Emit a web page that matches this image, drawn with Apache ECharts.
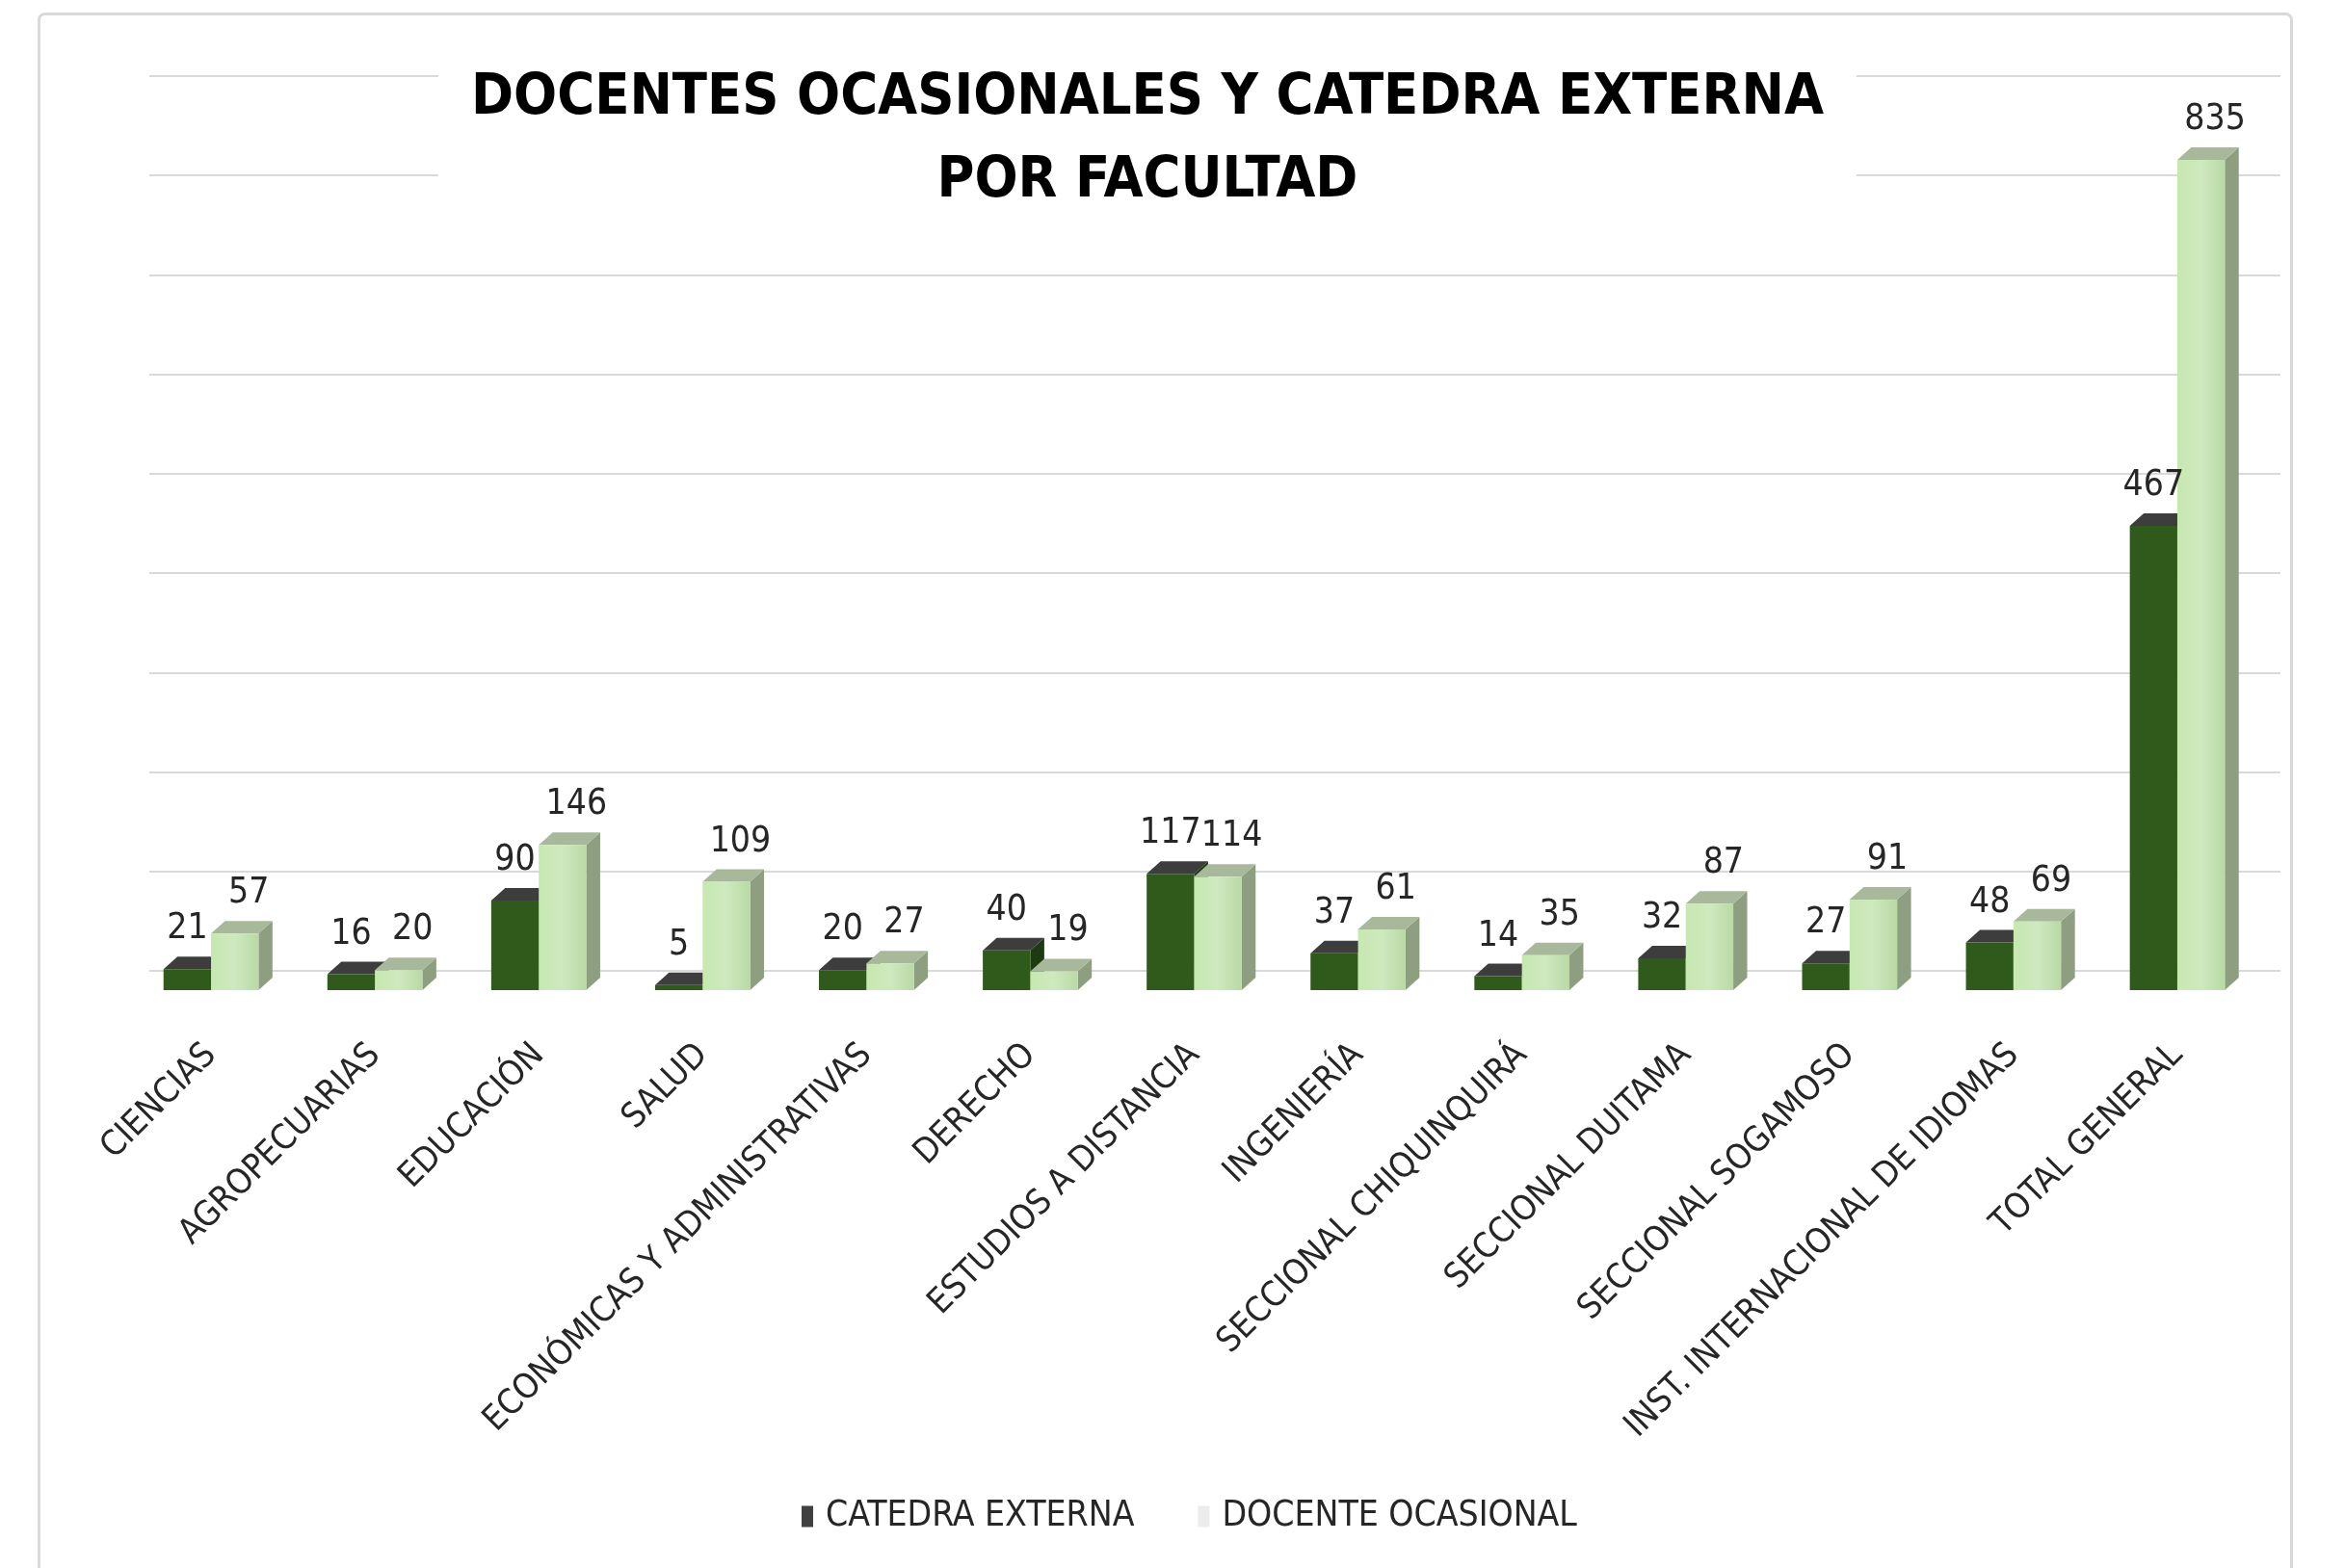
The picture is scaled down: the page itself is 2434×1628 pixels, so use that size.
<!DOCTYPE html>
<html>
<head>
<meta charset="utf-8">
<script src="https://cdn.jsdelivr.net/npm/echarts@6/dist/echarts.min.js"></script>
<style>
  html, body { margin: 0; padding: 0; background: #fff; }
  #chart { width: 2434px; height: 1628px; }
</style>
</head>
<body>
<div id="chart"></div>
<script>
// datos por facultad
var facultades = ['CIENCIAS', 'AGROPECUARIAS', 'EDUCACIÓN', 'SALUD', 'ECONÓMICAS Y ADMINISTRATIVAS',
  'DERECHO', 'ESTUDIOS A DISTANCIA', 'INGENIERÍA', 'SECCIONAL CHIQUINQUIRÁ', 'SECCIONAL DUITAMA',
  'SECCIONAL SOGAMOSO', 'INST. INTERNACIONAL DE IDIOMAS', 'TOTAL GENERAL'];
var catedraExterna = [21, 16, 90, 5, 20, 40, 117, 37, 14, 32, 27, 48, 467];
var docenteOcasional = [57, 20, 146, 109, 27, 19, 114, 61, 35, 87, 91, 69, 835];

var fuente = "'Liberation Sans Narrow', 'DejaVu Sans Condensed', sans-serif";

// geometria de la barra 3D (fracciones del ancho de categoria)
var ANCHO = 0.29, LADO = 0.085, FONDO = 13, BAJA = 20;

var caja = function(api, lado) {
  var idx = api.value(0);
  var v = api.value(1);
  var base = api.coord([idx, 0]);
  var tope = api.coord([idx, v]);
  var cw = api.size([1, 0])[0];
  var bw = cw * ANCHO;
  var d = cw * LADO;
  var x0 = lado < 0 ? base[0] - bw : base[0];
  return { v: v, x0: x0, x1: x0 + bw, bw: bw, d: d, yb: base[1] + BAJA, yt: tope[1] + BAJA };
};

/**
 * barra con efecto 3D (cara frontal, lateral y superior)
 */
var barra3D = function(lado, colores) {
  return function(params, api) {
    var c = caja(api, lado);
    var dy = FONDO;
    return {
      type: 'group',
      children: [
        { type: 'polygon', shape: { points: [[c.x1, c.yt], [c.x1 + c.d, c.yt - dy], [c.x1 + c.d, c.yb - dy], [c.x1, c.yb]] },
          style: { fill: colores.lado } },
        { type: 'polygon', shape: { points: [[c.x0, c.yt], [c.x0 + c.d, c.yt - dy], [c.x1 + c.d, c.yt - dy], [c.x1, c.yt]] },
          style: { fill: colores.arriba } },
        { type: 'rect', shape: { x: c.x0, y: c.yt, width: c.bw, height: c.yb - c.yt },
          style: { fill: colores.frente } }
      ]
    };
  };
};

/**
 * etiqueta de valor encima de la barra
 */
var etiqueta = function(lado) {
  return function(params, api) {
    var c = caja(api, lado);
    var dx = lado < 0 ? 0 : c.d;
    return {
      type: 'text', x: c.x0 + c.bw / 2 + dx, y: c.yt - FONDO - 10,
      style: { text: String(c.v), textAlign: 'center', textVerticalAlign: 'bottom',
               fontSize: 37, fontFamily: fuente, fill: '#262626' }
    };
  };
};

var datos = function(arr) {
  return arr.map(function(v, i) { return [i, v]; });
};

var chart = echarts.init(document.getElementById('chart'));
var option = {
  backgroundColor: '#fff',
  animation: false,
  title: {
    text: 'DOCENTES OCASIONALES Y CATEDRA EXTERNA\nPOR FACULTAD',
    left: 1157, top: 52, textAlign: 'center',
    backgroundColor: '#fff', padding: [8, 34, 10, 34],
    textStyle: { fontSize: 59, fontWeight: 'bold', fontFamily: fuente, color: '#000', lineHeight: 86 }
  },
  graphic: [{
    type: 'rect', left: 38, top: 12, shape: { width: 2338, height: 1640, r: 6 },
    style: { fill: 'none', stroke: '#d9d9d9', lineWidth: 3 }, silent: true, z: -1
  }],
  legend: {
    bottom: 30, left: 827,
    itemWidth: 12, itemHeight: 22, itemGap: 66,
    textStyle: { fontSize: 37, fontFamily: fuente, color: '#262626', padding: [0, 0, 0, 8] },
    data: [
      { name: 'CATEDRA EXTERNA', icon: 'rect', itemStyle: { color: '#404040' } },
      { name: 'DOCENTE OCASIONAL', icon: 'rect', itemStyle: { color: '#ececec' } }
    ]
  },
  grid: [
    { left: 134, right: 89, top: 79, bottom: 620 },   // barras
    { left: 155, right: 67, top: 79, bottom: 620 }    // pared del fondo (lineas)
  ],
  xAxis: [
    {
      type: 'category', data: facultades, gridIndex: 0,
      axisLine: { show: false }, axisTick: { show: false },
      axisLabel: { rotate: 45, interval: 0, margin: 82, fontSize: 36, fontFamily: fuente, color: '#262626' }
    },
    { type: 'category', data: facultades, gridIndex: 1, show: false }
  ],
  yAxis: [
    {
      type: 'value', min: 0, max: 900, interval: 100, gridIndex: 0,
      axisLabel: { show: false }, axisLine: { show: false }, axisTick: { show: false },
      splitLine: { show: false }
    },
    {
      type: 'value', min: 0, max: 900, interval: 100, gridIndex: 1,
      axisLabel: { show: false }, axisLine: { show: false }, axisTick: { show: false },
      splitLine: { lineStyle: { color: '#d9d9d9', width: 2 } }
    }
  ],
  series: [
    {
      name: 'CATEDRA EXTERNA', type: 'custom', z: 2,
      itemStyle: { color: '#404040' },
      renderItem: barra3D(-1, { frente: '#2f5a1c', lado: '#1d3a10', arriba: '#3d3d3d' }),
      encode: { x: 0, y: 1 },
      data: datos(catedraExterna)
    },
    {
      name: 'DOCENTE OCASIONAL', type: 'custom', z: 3,
      itemStyle: { color: '#ececec' },
      renderItem: barra3D(1, {
        frente: { type: 'linear', x: 0, y: 0, x2: 1, y2: 0,
                  colorStops: [{ offset: 0, color: '#c6e8b0' }, { offset: 0.5, color: '#cfe9bf' }, { offset: 1, color: '#b9d9a5' }] },
        lado: '#8d9f80', arriba: '#a8b89a' }),
      encode: { x: 0, y: 1 },
      data: datos(docenteOcasional)
    },
    {
      name: 'CATEDRA EXTERNA', type: 'custom', z: 5, silent: true,
      renderItem: etiqueta(-1), encode: { x: 0, y: 1 },
      data: datos(catedraExterna)
    },
    {
      name: 'DOCENTE OCASIONAL', type: 'custom', z: 5, silent: true,
      renderItem: etiqueta(1), encode: { x: 0, y: 1 },
      data: datos(docenteOcasional)
    }
  ]
};
chart.setOption(option);
</script>
</body>
</html>
